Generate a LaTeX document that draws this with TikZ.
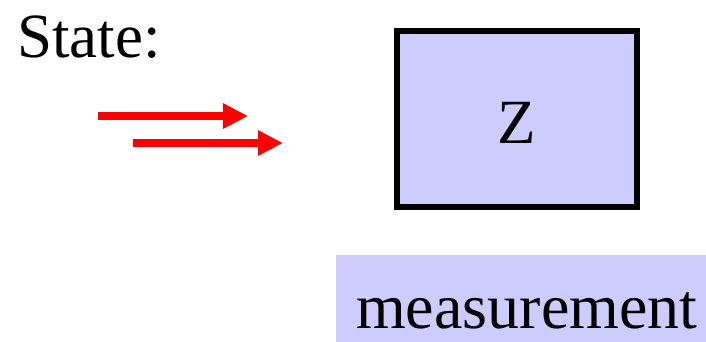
\documentclass[tikz,border=0pt]{standalone}
\usepackage{fontspec}
\setmainfont{Liberation Serif}
\usetikzlibrary{arrows.meta}
\definecolor{boxfill}{HTML}{CCCCFF}
\definecolor{arrred}{HTML}{FF0000}
\begin{document}
\begin{tikzpicture}[x=1pt,y=-1pt,
  bigtext/.style={font=\fontsize{63}{75}\selectfont, inner sep=0pt},
  redarrow/.style={draw=arrred, line width=8pt, -{Triangle[length=25pt,width=24pt]}}]
\useasboundingbox (0,0) rectangle (706,342);
\node[bigtext, anchor=base west] (state) at (17,58) {State:};
\coordinate (a1s) at (98,116);
\coordinate (a1e) at (248,116);
\coordinate (a2s) at (133,143);
\coordinate (a2e) at (283,143);
\draw[redarrow] (a1s) -- (a1e);
\draw[redarrow] (a2s) -- (a2e);
\node[draw=black, fill=boxfill, line width=6pt, minimum width=240pt, minimum height=175.5pt, inner sep=0pt] (z) at (517,118.75) {};
\node[bigtext, anchor=base] (zlabel) at (517,143) {Z};
\fill[boxfill] (336,255) rectangle (706,342);
\node[bigtext, font=\fontsize{64}{76}\selectfont, anchor=base west] (meas) at (356,328) {measurement};
\end{tikzpicture}
\end{document}
